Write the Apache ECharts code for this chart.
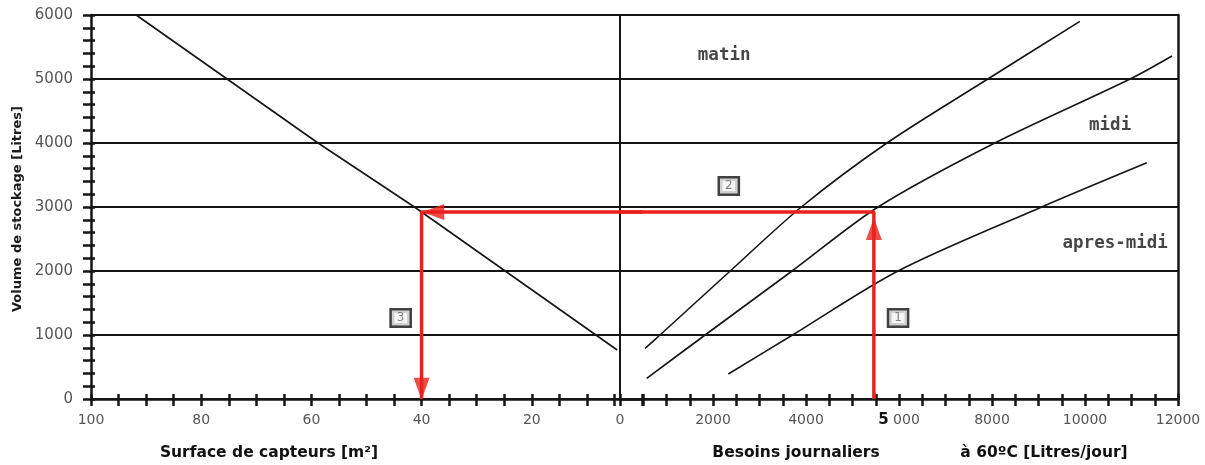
<!DOCTYPE html>
<html>
<head>
<meta charset="utf-8">
<script src="https://cdn.jsdelivr.net/npm/echarts@6/dist/echarts.min.js"></script>
<style>
html,body{margin:0;padding:0;background:#fff;}
#chart{width:1205px;height:465px;}
</style>
</head>
<body>
<div id="chart"></div>
<script>
// ---- Data ----
// Left panel: collector surface [m²] vs storage volume [L]
const surfaceLine = [[91.8, 6000], [58.8, 4000], [41.3, 3000], [4.5, 766]];
// Right panel: daily needs [L/day] vs storage volume [L]
const matin = [[538, 790], [860, 1000], [2370, 2000], [3900, 3000], [5740, 4000], [7910, 5000], [9890, 5900]];
const midi = [[574, 323], [1830, 1000], [3700, 2000], [5550, 3000], [8060, 4000], [10970, 5000], [11870, 5360]];
const apresMidi = [[2330, 390], [3710, 1000], [5980, 2000], [9070, 3000], [11330, 3690]];
// Red reading path
const pathRight = [[5460, 0], [5460, 2920], [0, 2920]];
const pathLeft = [[0, 2920], [40, 2920], [40, 0]];
const arrowsRight = [[5460, 2656, 0]];
const arrowsLeft = [[37.9, 2920, 90], [40, 160, 180]];
// Annotations
const curveLabelsRight = [[2240, 5375, 'matin'], [10540, 4281, 'midi'], [10650, 2437, 'apres-midi']];
const stepBoxesRight = [[2340, 3328, '2'], [5980, 1266, '1']];
const stepBoxesLeft = [[43.8, 1266, '3']];
// Axes
const yMin = 0, yMax = 6000, yStep = 1000;
const leftMin = 0, leftMax = 100, leftTick = 5, leftLabelStep = 20;
const rightMin = 0, rightMax = 12000, rightTick = 500, rightLabelStep = 2000;
const rightSpecialTick = 6000, rightSpecialLabel = ['5', ' 000'];
const yName = 'Volume de stockage [Litres]';
const xNameLeft = 'Surface de capteurs [m²]';
const xNameRight1 = 'Besoins journaliers';
const xNameRight2 = 'à 60ºC [Litres/jour]';

const chart = echarts.init(document.getElementById('chart'), null, {renderer: 'canvas'});
const LBL = {color: '#555', fontFamily: 'DejaVu Sans', fontSize: 14};
const BLACK = '#151515';

const xBase = (grid, min, max, interval, inverse, fmt) => ({
  type: 'value', gridIndex: grid, min, max, interval, inverse, position: 'bottom',
  axisLine: {show: true, onZero: false, lineStyle: {color: BLACK, width: 2.5}},
  axisTick: {show: true, length: 7, lineStyle: {color: BLACK, width: 2.5}},
  axisLabel: Object.assign({margin: 14, formatter: fmt}, LBL),
  splitLine: {show: false}
});
const xDup = (grid, min, max, interval, inverse) => ({
  type: 'value', gridIndex: grid, min, max, interval, inverse, position: 'bottom',
  axisLine: {show: false, onZero: false}, axisLabel: {show: false}, splitLine: {show: false},
  axisTick: {show: true, inside: true, length: 5, lineStyle: {color: BLACK, width: 2.5}}
});

const option = {
  animation: false,
  backgroundColor: '#fff',
  grid: [
    {left: 91, right: 1205 - 642, top: 15, bottom: 66},
    {left: 620, right: 1205 - 1178, top: 15, bottom: 66}
  ],
  xAxis: [
    xBase(0, leftMin, leftMax, leftTick, true,
      v => (v % leftLabelStep === 0 && v !== 0) ? String(v) : ''),
    xBase(1, rightMin, rightMax, rightTick, false,
      v => v % rightLabelStep !== 0 ? '' : (v === rightSpecialTick ? '{b|' + rightSpecialLabel[0] + '}' + rightSpecialLabel[1] : String(v))),
    xDup(0, leftMin, leftMax, leftTick, true),
    xDup(1, rightMin, rightMax, rightTick, false)
  ],
  yAxis: [
    {
      type: 'value', gridIndex: 0, min: yMin, max: yMax, interval: yStep, position: 'left',
      axisLine: {show: true, onZero: false, lineStyle: {color: BLACK, width: 2.5}},
      axisTick: {show: true, length: 8, lineStyle: {color: BLACK, width: 2.5}},
      minorTick: {show: true, splitNumber: 5, length: 8, lineStyle: {color: BLACK, width: 2.5}},
      axisLabel: Object.assign({margin: 18, formatter: v => String(v)}, LBL, {fontSize: 15}),
      splitLine: {show: true, lineStyle: {color: BLACK, width: 2}}
    },
    {
      type: 'value', gridIndex: 1, min: yMin, max: yMax, interval: yStep, position: 'left',
      axisLine: {show: true, onZero: false, lineStyle: {color: BLACK, width: 2}},
      axisTick: {show: false}, axisLabel: {show: false},
      splitLine: {show: true, lineStyle: {color: BLACK, width: 2}}
    },
    {
      type: 'value', gridIndex: 1, min: yMin, max: yMax, interval: yStep, position: 'right',
      axisLine: {show: true, onZero: false, lineStyle: {color: BLACK, width: 2.5}},
      axisTick: {show: false}, axisLabel: {show: false}, splitLine: {show: false}
    },
    {
      type: 'value', gridIndex: 0, min: yMin, max: yMax, interval: yStep, position: 'left',
      axisLine: {show: false, onZero: false}, axisLabel: {show: false}, splitLine: {show: false},
      axisTick: {show: true, inside: true, length: 4, lineStyle: {color: BLACK, width: 2.5}},
      minorTick: {show: true, splitNumber: 5, length: 4, lineStyle: {color: BLACK, width: 2.5}}
    }
  ],
  series: [
    {type: 'line', xAxisIndex: 0, yAxisIndex: 0, data: surfaceLine, symbol: 'none',
      lineStyle: {color: BLACK, width: 1.6}, z: 3},
    {type: 'line', xAxisIndex: 1, yAxisIndex: 1, data: matin, symbol: 'none', smooth: 0.3,
      lineStyle: {color: BLACK, width: 1.6}, z: 3},
    {type: 'line', xAxisIndex: 1, yAxisIndex: 1, data: midi, symbol: 'none', smooth: 0.3,
      lineStyle: {color: BLACK, width: 1.6}, z: 3},
    {type: 'line', xAxisIndex: 1, yAxisIndex: 1, data: apresMidi, symbol: 'none', smooth: 0.3,
      lineStyle: {color: BLACK, width: 1.6}, z: 3},
    {type: 'line', xAxisIndex: 1, yAxisIndex: 1, data: pathRight, symbol: 'none',
      lineStyle: {color: '#e8211b', width: 3.5}, z: 10, clip: false},
    {type: 'line', xAxisIndex: 0, yAxisIndex: 0, data: pathLeft, symbol: 'none',
      lineStyle: {color: '#e8211b', width: 3.5}, z: 10, clip: false},
    {type: 'scatter', xAxisIndex: 1, yAxisIndex: 1, symbol: 'triangle', symbolSize: [16, 22],
      data: arrowsRight.map(a => ({value: [a[0], a[1]], symbolRotate: a[2]})),
      itemStyle: {color: '#e8211b'}, z: 11, clip: false},
    {type: 'scatter', xAxisIndex: 0, yAxisIndex: 0, symbol: 'triangle', symbolSize: [16, 22],
      data: arrowsLeft.map(a => ({value: [a[0], a[1]], symbolRotate: a[2]})),
      itemStyle: {color: '#e8211b'}, z: 11, clip: false},
    {type: 'scatter', xAxisIndex: 1, yAxisIndex: 1, symbolSize: 1, itemStyle: {color: 'transparent'},
      data: curveLabelsRight.map(a => ({value: [a[0], a[1]], name: a[2]})),
      label: {show: true, position: 'inside', formatter: p => p.name, color: '#161616',
        fontFamily: 'DejaVu Sans Mono', fontWeight: 'bold', fontSize: 17.5}, z: 12},
    {type: 'scatter', xAxisIndex: 1, yAxisIndex: 1, symbolSize: 1, itemStyle: {color: 'transparent'},
      data: stepBoxesRight.map(a => ({value: [a[0], a[1]], name: a[2]})),
      label: {show: true, position: 'inside', formatter: p => p.name, color: '#666',
        fontFamily: 'DejaVu Sans', fontSize: 12, backgroundColor: '#f4f4f4',
        borderColor: '#111', borderWidth: 2.5, padding: [2, 5, 1, 5]}, z: 12},
    {type: 'scatter', xAxisIndex: 0, yAxisIndex: 0, symbolSize: 1, itemStyle: {color: 'transparent'},
      data: stepBoxesLeft.map(a => ({value: [a[0], a[1]], name: a[2]})),
      label: {show: true, position: 'inside', formatter: p => p.name, color: '#666',
        fontFamily: 'DejaVu Sans', fontSize: 12, backgroundColor: '#f4f4f4',
        borderColor: '#111', borderWidth: 2.5, padding: [2, 5, 1, 5]}, z: 12}
  ],
  graphic: [
    {type: 'text', x: 18, y: 209, rotation: Math.PI / 2,
      style: {text: yName, align: 'center', verticalAlign: 'middle', fill: '#1a1a1a',
        font: 'bold 13px "DejaVu Sans"'}},
    {type: 'text', x: 269, y: 453,
      style: {text: xNameLeft, align: 'center', verticalAlign: 'middle', fill: '#111',
        font: 'bold 15.5px "DejaVu Sans"'}},
    {type: 'text', x: 796, y: 453,
      style: {text: xNameRight1, align: 'center', verticalAlign: 'middle', fill: '#111',
        font: 'bold 15.5px "DejaVu Sans"'}},
    {type: 'text', x: 1044, y: 453,
      style: {text: xNameRight2, align: 'center', verticalAlign: 'middle', fill: '#111',
        font: 'bold 15.5px "DejaVu Sans"'}}
  ]
};
option.xAxis[1].axisLabel.rich = {b: {color: '#111', fontWeight: 'bold', fontFamily: 'DejaVu Sans', fontSize: 15}};
chart.setOption(option);
</script>
</body>
</html>
